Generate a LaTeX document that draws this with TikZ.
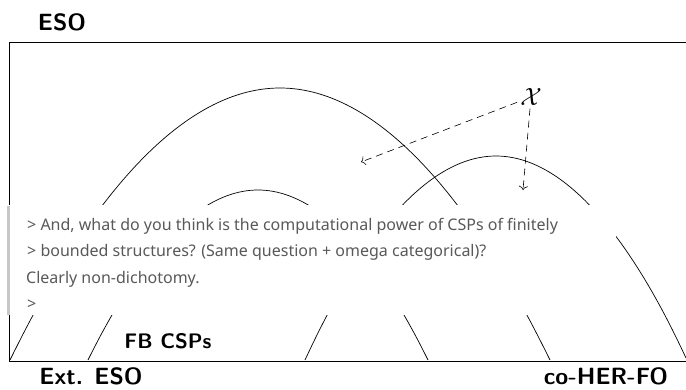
\documentclass[tikz,border=0pt]{standalone}
\usepackage{fontspec}
\usetikzlibrary{arrows.meta}
\newfontfamily\mailfont{Noto Sans}
\begin{document}
\begin{tikzpicture}[x=1pt,y=-1pt,
    classlabel/.style={font=\sffamily\bfseries\fontsize{23.5}{26}\selectfont, inner sep=0pt, anchor=base},
    quoteline/.style={font=\mailfont\fontsize{16}{18}\selectfont, text=black!65, anchor=base west, inner sep=0pt},
    hint/.style={dashed, dash pattern=on 7pt off 5pt, -{To[length=4pt,width=9pt]}, line width=0.6pt}]
  \useasboundingbox (0,0) rectangle (686,389);
  % frame
  \draw[line width=0.9pt] (686,42) -- (9,42) -- (9,361) -- (686,361);
  % the classes
  \draw[line width=0.7pt] (10,360) parabola bend (280,88) (550,360);
  \draw[line width=0.7pt] (88,360) parabola bend (258,190) (428,360);
  \draw[line width=0.7pt] (305,360) parabola bend (496,156) (686,358);
  % pasted mail quote on top
  \fill[white] (7,205) rectangle (616,315);
  \fill[black!22] (7,206) rectangle (9.5,315);
  \node[quoteline] (quoteA) at (27,230) {> And, what do you think is the computational power of CSPs of finitely};
  \node[quoteline] (quoteB) at (27,256.5) {> bounded structures? (Same question + omega categorical)?};
  \node[quoteline] (quoteC) at (26,283) {Clearly non-dichotomy.};
  \node[quoteline] (quoteD) at (27,309) {>};
  % names
  \node[classlabel] (eso) at (62,30) {ESO};
  \node[classlabel] (exteso) at (91,384) {Ext. ESO};
  \node[classlabel] (coher) at (606,384) {co-HER-FO};
  \node[classlabel, font=\sffamily\bfseries\fontsize{21}{23}\selectfont] (fbcsp) at (168,348) {FB CSPs};
  % the X and its arrows
  \node[inner sep=3pt] (chi) at (531,97) {\fontsize{29}{30}\selectfont$\mathcal{X}$};
  \coordinate (tipA) at (361,162);
  \coordinate (tipB) at (523,190);
  \draw[hint] (chi) -- (tipA);
  \draw[hint] (chi) -- (tipB);
\end{tikzpicture}
\end{document}
